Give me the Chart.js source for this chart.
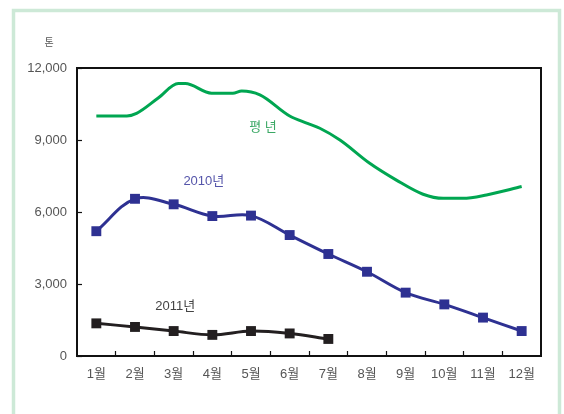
<!DOCTYPE html>
<html><head><meta charset="utf-8">
<script src="https://cdn.jsdelivr.net/npm/chart.js@4/dist/chart.umd.min.js"></script>
<style>
html,body{margin:0;padding:0;background:#fff;}
#wrap{position:relative;width:564px;height:414px;}
canvas{display:block;}
</style></head>
<body><div id="wrap"><canvas id="c" width="564" height="414"></canvas></div>
<script>
// ---- data ----
const months = ['1월','2월','3월','4월','5월','6월','7월','8월','9월','10월','11월','12월'];
const seriesNames = ['평 년', '2010년', '2011년'];
const unitLabel = '톤';
// 평년 (normal year) – smooth curve sampled at fractional month positions
const avgMonth = [1.0, 1.79, 2.04, 2.6, 3.12, 3.3, 3.98, 4.53, 4.76, 5.23, 6.0, 6.46, 6.78, 7.3, 8.07, 8.76, 9.45, 9.97, 10.48, 11.09, 12.0];
const avgValue = [10000, 10000, 10110, 10750, 11350, 11350, 10950, 10950, 11040, 10880, 10000, 9690, 9490, 9000, 8030, 7330, 6740, 6570, 6570, 6710, 7060];
const values2010 = [5200, 6550, 6320, 5830, 5850, 5040, 4250, 3510, 2640, 2150, 1600, 1040];
const values2011 = [1360, 1210, 1040, 880, 1040, 940, 710];
const yTickValues = [0, 3000, 6000, 9000, 12000];
// label anchors in data units (month, value)
const seriesLabelAt = [[5.31, 9540], [3.78, 7290], [3.04, 2080]];

const FONT = "'Liberation Sans', 'Noto Sans CJK KR', sans-serif";
const C_GREEN = '#00a651', C_BLUE = '#2e3192', C_BLACK = '#231f20';
const labelColors = ['#3aa864', '#5555aa', '#444444'];

const framePlugin = {
  id: 'frame',
  beforeDraw(chart) {
    const ctx = chart.ctx;
    ctx.save();
    ctx.fillStyle = '#fff';
    ctx.fillRect(0, 0, chart.width, chart.height);
    ctx.strokeStyle = '#cde9d7';
    ctx.lineWidth = 3.5;
    ctx.strokeRect(13.5, 10.5, 546, 420);
    ctx.restore();
  },
  afterDraw(chart) {
    const ctx = chart.ctx, a = chart.chartArea;
    const xs = chart.scales.x, ys = chart.scales.y;
    ctx.save();
    ctx.strokeStyle = '#111';
    ctx.lineWidth = 2;
    ctx.strokeRect(a.left, a.top, a.right - a.left, a.bottom - a.top);
    ctx.font = "13px " + FONT;
    ctx.textAlign = 'center';
    ctx.textBaseline = 'middle';
    seriesNames.forEach((n, i) => {
      ctx.fillStyle = labelColors[i];
      ctx.fillText(n, xs.getPixelForValue(seriesLabelAt[i][0]), ys.getPixelForValue(seriesLabelAt[i][1]));
    });
    ctx.fillStyle = '#555';
    ctx.font = "10px " + FONT;
    ctx.fillText(unitLabel, a.left - 28, a.top - 25);
    ctx.restore();
  }
};

const toPts = arr => arr.map((v, i) => ({x: i + 1, y: v}));

new Chart(document.getElementById('c'), {
  type: 'line',
  data: {
    datasets: [
      { label: seriesNames[0], data: avgMonth.map((m, i) => ({x: m, y: avgValue[i]})),
        borderColor: C_GREEN, borderWidth: 3, pointRadius: 0, cubicInterpolationMode: 'monotone', fill: false },
      { label: seriesNames[1], data: toPts(values2010),
        borderColor: C_BLUE, backgroundColor: C_BLUE, borderWidth: 3, tension: 0.35,
        pointStyle: 'rect', pointRadius: 7, pointBorderWidth: 0, pointBackgroundColor: C_BLUE },
      { label: seriesNames[2], data: toPts(values2011),
        borderColor: C_BLACK, backgroundColor: C_BLACK, borderWidth: 3, tension: 0.35,
        pointStyle: 'rect', pointRadius: 7, pointBorderWidth: 0, pointBackgroundColor: C_BLACK }
    ]
  },
  options: {
    responsive: false, animation: false,
    layout: { padding: { left: 0, top: 68, right: 23, bottom: 0 } },
    plugins: { legend: { display: false }, tooltip: { enabled: false } },
    scales: {
      x: {
        type: 'linear', min: 0.5, max: 12.5,
        afterBuildTicks(s) {
          const t = [];
          for (let i = 1; i <= 12; i++) { t.push({value: i}); if (i < 12) t.push({value: i + 0.5}); }
          s.ticks = t;
        },
        afterFit(s) { s.height = 58; },
        border: { display: false },
        grid: { drawOnChartArea: false, tickLength: -5, tickWidth: 1.2,
          tickColor: c => (c.tick && c.tick.value % 1 !== 0) ? '#111' : 'rgba(0,0,0,0)' },
        ticks: { autoSkip: false, maxRotation: 0, padding: 16, color: '#555',
          font: { family: FONT, size: 13 },
          callback: v => (v % 1 === 0) ? months[v - 1] : '' }
      },
      y: {
        min: 0, max: 12000,
        afterBuildTicks(s) { s.ticks = yTickValues.map(v => ({value: v})); },
        afterFit(s) { s.width = 77; },
        border: { display: false },
        grid: { drawOnChartArea: false, tickLength: -5, tickWidth: 1.2, tickColor: '#111' },
        ticks: { padding: 15, color: '#555', font: { family: FONT, size: 13 },
          callback: v => v.toLocaleString('en-US') }
      }
    }
  },
  plugins: [framePlugin]
});
</script></body></html>
